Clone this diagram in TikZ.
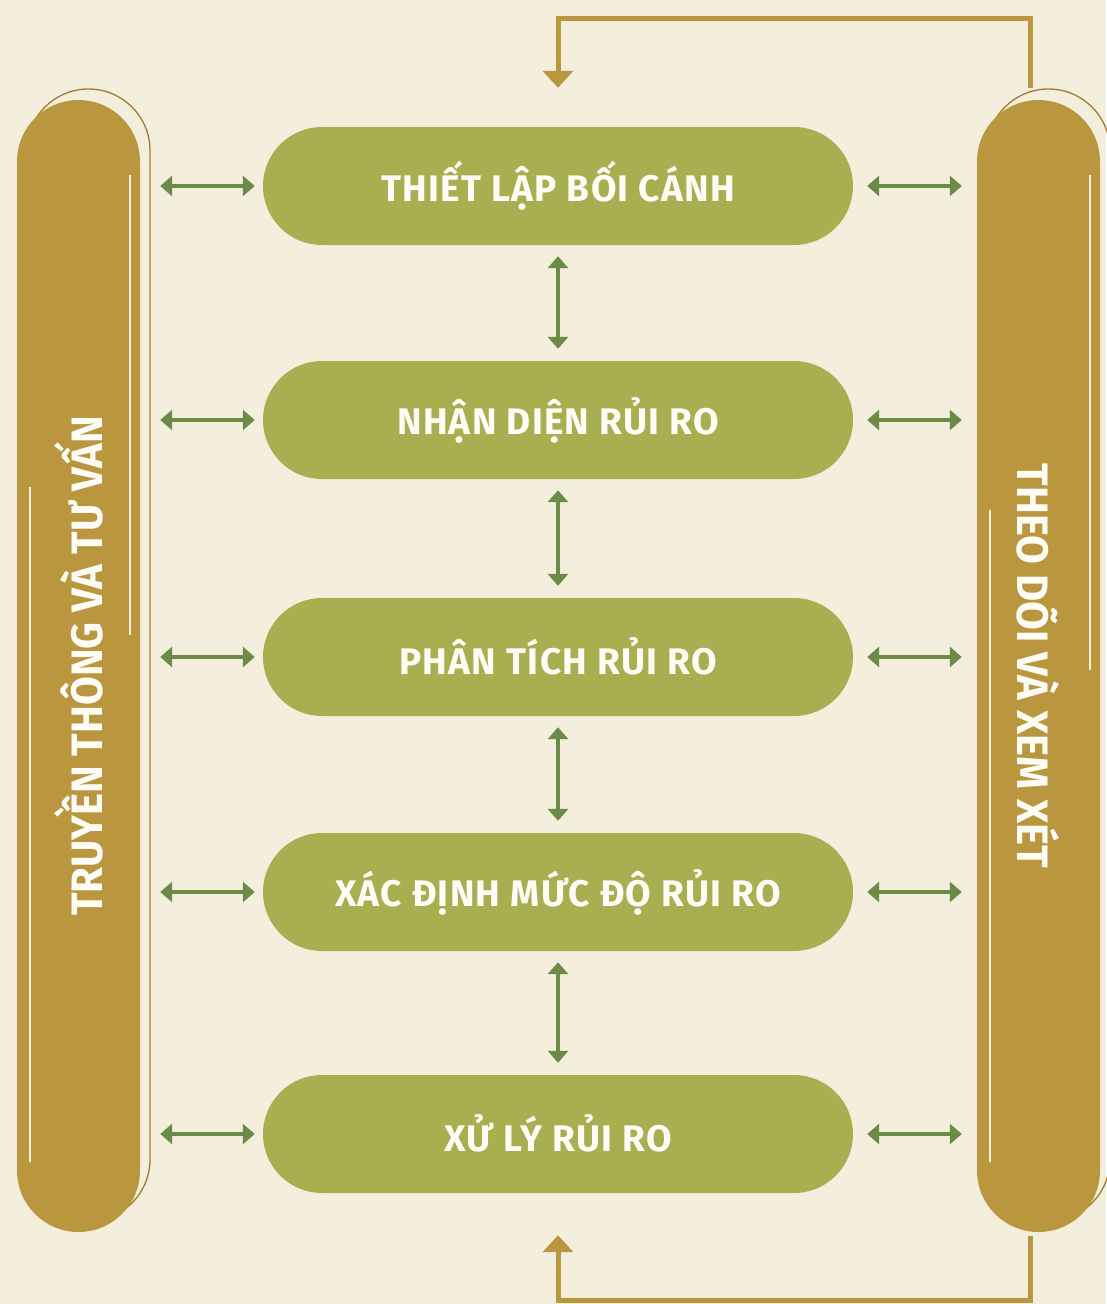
\documentclass[tikz,border=0pt]{standalone}
\usepackage{fontspec}
\setmainfont{Fira Sans}
\newfontfamily\stagefont{Fira Sans}[LetterSpace=3.5]
\newfontfamily\sidefont{Fira Sans}[FakeStretch=0.95]
\usetikzlibrary{arrows.meta,shapes.misc}

\definecolor{bgcream}{HTML}{F4EEDD}
\definecolor{gold}{HTML}{BA963F}
\definecolor{goldline}{HTML}{A6782A}
\definecolor{olive}{HTML}{A9AE50}
\definecolor{arrowgreen}{HTML}{6B8B47}
\definecolor{textcream}{HTML}{FFFDF5}

\tikzset{
  stagebox/.style={rounded rectangle, fill=olive, text=textcream, inner sep=0pt,
    minimum width=590pt, minimum height=118pt, font=\stagefont\fontsize{37}{37}\selectfont\bfseries},
  sidepill/.style={rectangle, rounded corners=61.5pt, fill=gold, text=textcream, inner sep=0pt,
    minimum width=123pt, minimum height=1132pt, font=\sidefont\fontsize{44}{44}\selectfont\bfseries},
  sideoutline/.style={draw=goldline, line width=1.3pt, rounded corners=61.5pt},
  pillline/.style={draw=bgcream, line width=1.5pt},
  garrow/.style={draw=arrowgreen, line width=3.2pt,
    {Triangle[length=12pt,width=20pt]}-{Triangle[length=12pt,width=20pt]}},
  fbline/.style={draw=gold, line width=5pt, -{Triangle[length=17pt,width=30pt]}}
}

\begin{document}
\begin{tikzpicture}[x=1pt,y=-1pt]

\useasboundingbox (0,0) rectangle (1106,1304);
\fill[bgcream] (0,0) rectangle (1106,1304);

% outlines behind the side pills
\draw[sideoutline] (27,89) rectangle (150,1221);
\draw[sideoutline] (987,89) rectangle (1110,1221);

% side pills
\node[sidepill] (lp) at (78.5,666) {\rotatebox{90}{TRUYỀN THÔNG VÀ TƯ VẤN}};
\node[sidepill] (rp) at (1038.5,666) {\rotatebox{-90}{THEO DÕI VÀ XEM XÉT}};

\draw[pillline] (130,175) -- (130,635);
\draw[pillline] (30,487) -- (30,1162);
\draw[pillline] (1090,175) -- (1090,670);
\draw[pillline] (990,510) -- (990,1162);

% stages
\foreach \y/\t [count=\i] in {186/THIẾT LẬP BỐI CÁNH, 420/NHẬN DIỆN RỦI RO,
    657/PHÂN TÍCH RỦI RO, 892/XÁC ĐỊNH MỨC ĐỘ RỦI RO, 1134/XỬ LÝ RỦI RO}
  \node[stagebox] (s\i) at (558,\y) {\raisebox{2pt}{\t}};

% arrows to the sides
\foreach \i in {1,...,5} {
  \draw[garrow, shorten <=20pt, shorten >=8pt] (lp.east |- s\i.west) -- (s\i.west);
  \draw[garrow, shorten <=14pt, shorten >=15pt] (s\i.east) -- (rp.west |- s\i.east);
}

% arrows between stages
\foreach \i/\j in {1/2,2/3,3/4,4/5}
  \draw[garrow, shorten <=11pt, shorten >=12pt] (s\i.south) -- (s\j.north);

% feedback loop
\coordinate (fbtop) at (1030,18);
\coordinate (fbbot) at (1030,1300);
\draw[fbline, shorten <=12pt, shorten >=39pt] (fbtop |- rp.north) -- (fbtop) -| (s1.north);
\draw[fbline, shorten <=4pt, shorten >=42pt] (fbbot |- rp.south) -- (fbbot) -| (s5.south);

\end{tikzpicture}
\end{document}
